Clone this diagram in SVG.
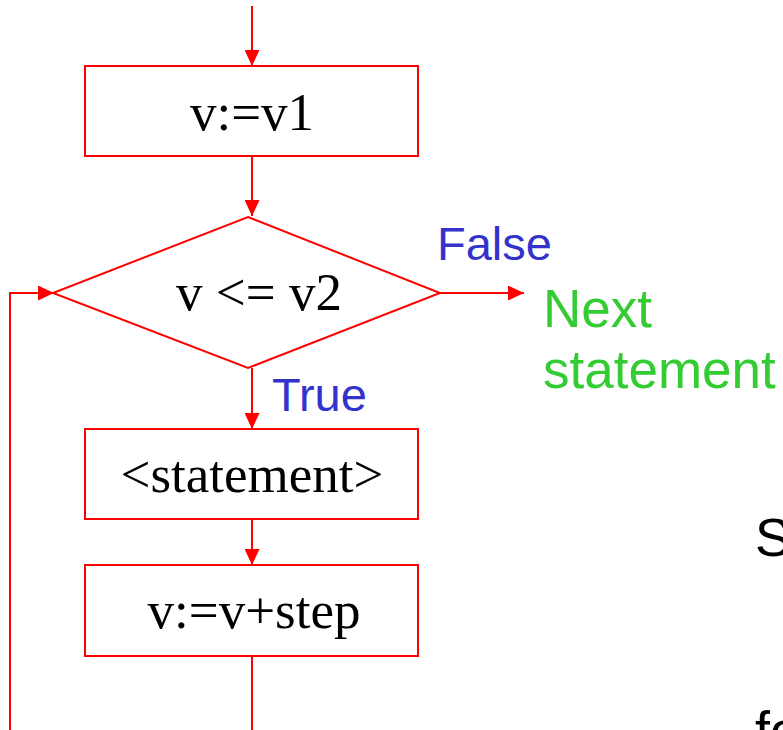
<svg xmlns="http://www.w3.org/2000/svg" width="783" height="730" viewBox="0 0 783 730">
<style>
.shape{fill:#fff;stroke:#ff0000;stroke-width:2}
.line{fill:none;stroke:#ff0000;stroke-width:2}
.serif{font-family:"Liberation Serif","Times New Roman",serif;font-size:53px;fill:#000;text-anchor:middle}
.lbl{font-family:"Liberation Sans",Arial,sans-serif;font-size:47px;fill:#3333cc}
.grn{font-family:"Liberation Sans",Arial,sans-serif;font-size:53px;fill:#33cc33}
.blk{font-family:"Liberation Sans",Arial,sans-serif;font-size:54px;fill:#000}
</style>
<defs>
<marker id="arr" viewBox="0 0 16 15" refX="16" refY="7.5" markerWidth="16" markerHeight="15" markerUnits="userSpaceOnUse" orient="auto">
<path d="M0,0 L16,7.5 L0,15 Z" fill="#ff0000"/>
</marker>
</defs>
<rect width="783" height="730" fill="#fff"/>
<g id="connectors">
<line class="line" x1="252" y1="6" x2="252" y2="66" marker-end="url(#arr)"/>
<line class="line" x1="252" y1="156" x2="252" y2="216" marker-end="url(#arr)"/>
<line class="line" x1="440" y1="293" x2="524" y2="293" marker-end="url(#arr)"/>
<line class="line" x1="252" y1="368" x2="252" y2="429" marker-end="url(#arr)"/>
<line class="line" x1="252" y1="519" x2="252" y2="565" marker-end="url(#arr)"/>
<polyline class="line" points="252,656 252,730"/>
<polyline class="line" points="10,730 10,293 54,293" marker-end="url(#arr)"/>
</g>
<g id="init">
<rect class="shape" x="85" y="66" width="333" height="90"/>
<text class="serif" x="252" y="130">v:=v1</text>
</g>
<g id="cond">
<polygon class="shape" points="248,217 440,293 248,368 53,293"/>
<text class="serif" x="259" y="310">v &lt;= v2</text>
</g>
<g id="stmt">
<rect class="shape" x="85" y="429" width="333" height="90"/>
<text class="serif" x="252" y="492">&lt;statement&gt;</text>
</g>
<g id="incr">
<rect class="shape" x="85" y="565" width="333" height="91"/>
<text class="serif" x="254" y="628">v:=v+step</text>
</g>
<g id="labels">
<text class="lbl" x="437" y="260">False</text>
<text class="lbl" x="272" y="411">True</text>
</g>
<g id="next">
<text class="grn" x="543" y="327">Next</text>
<text class="grn" x="543" y="388">statement</text>
</g>
<g id="side">
<text class="blk" x="755" y="556">S</text>
<text class="blk" x="755" y="749">fo</text>
</g>
</svg>
